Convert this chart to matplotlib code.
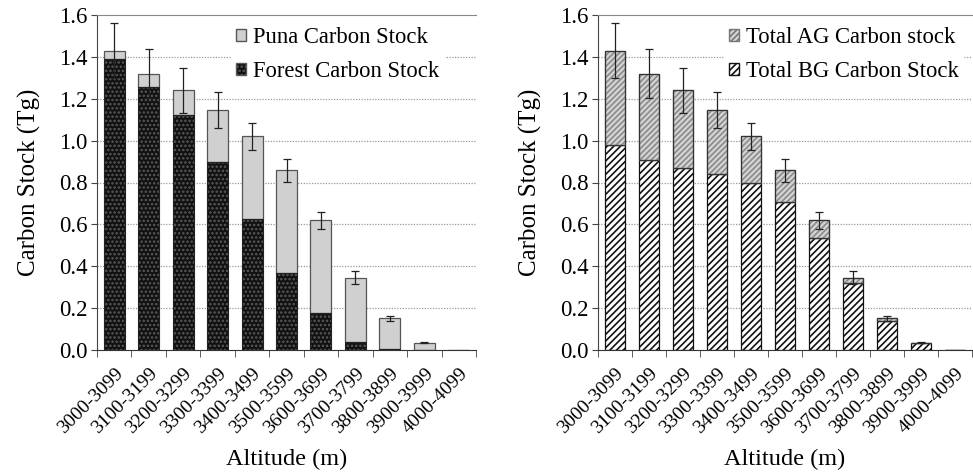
import numpy as np
import matplotlib
matplotlib.use("Agg")
import matplotlib.pyplot as plt
from matplotlib.patches import Patch

plt.rcParams['font.family'] = ['Liberation Serif', 'DejaVu Serif']
plt.rcParams['hatch.linewidth'] = 1.2

altitudes = ["3000-3099", "3100-3199", "3200-3299", "3300-3399", "3400-3499",
             "3500-3599", "3600-3699", "3700-3799", "3800-3899", "3900-3999",
             "4000-4099"]
total = [1.43, 1.32, 1.24, 1.145, 1.02, 0.858, 0.62, 0.345, 0.152, 0.035, 0.0]
err = [0.13, 0.118, 0.107, 0.085, 0.066, 0.055, 0.04, 0.03, 0.012, 0.003, 0.0]
forest = [1.39, 1.255, 1.12, 0.90, 0.625, 0.37, 0.178, 0.04, 0.005, 0.0, 0.0]
bg = [0.977, 0.907, 0.871, 0.840, 0.797, 0.708, 0.536, 0.32, 0.14, 0.035, 0.0]

total = np.array(total)
forest = np.array(forest)
bg = np.array(bg)
puna = total - forest
ag = total - bg
x = np.arange(len(altitudes))
w = 0.61

fig = plt.figure(figsize=(9.73, 4.74), dpi=100)
ax1 = fig.add_axes([97 / 973, 124 / 474, 379 / 973, 335 / 474])
ax2 = fig.add_axes([598 / 973, 124 / 474, 374 / 973, 335 / 474])


def style_axes(ax, xmax):
    ax.set_xlim(-0.5, xmax)
    ax.set_ylim(0, 1.6)
    ax.set_yticks(np.arange(0, 1.61, 0.2))
    ax.set_yticklabels([f"{v:.1f}" for v in np.arange(0, 1.61, 0.2)], fontsize=16.5)
    for v in np.arange(0.2, 1.5, 0.2):
        ax.axhline(v, color='#9a9a9a', lw=0.9, ls=(0, (1, 1.2)), zorder=0)
    ax.set_xticks(x)
    ax.set_xticklabels(altitudes, rotation=45, ha='right', rotation_mode='anchor',
                       fontsize=14)
    ax.tick_params(axis='x', length=0, pad=11)
    ax.set_xticks(np.arange(-0.5, len(altitudes), 1.0), minor=True)
    ax.tick_params(axis='x', which='minor', length=5, direction='out', color='#444')
    ax.tick_params(axis='y', length=4, direction='out', color='#444', pad=3)
    ax.spines['right'].set_visible(False)
    ax.spines['top'].set_color('#888888')
    ax.spines['left'].set_color('#444444')
    ax.spines['bottom'].set_color('#333333')
    ax.set_ylabel("Carbon Stock (Tg)", fontsize=18, labelpad=13)
    ax.set_xlabel("Altitude (m)", fontsize=17.5, labelpad=8)


# left panel: forest + puna
style_axes(ax1, 10.5)
ax1.bar(x, forest, w, color='#111111', edgecolor='#5a5a5a', hatch='....',
        linewidth=0, zorder=2)
ax1.bar(x, forest, w, fill=False, edgecolor='#222222', linewidth=0.8, zorder=3)
ax1.bar(x, puna, w, bottom=forest, color='#d0d0d0', edgecolor='#555555',
        linewidth=0.9, zorder=2)
ax1.errorbar(x[:10], total[:10], yerr=err[:10], fmt='none', ecolor='#222222',
             elinewidth=0.9, capsize=3, capthick=0.9, zorder=4)
h1 = [Patch(facecolor='#d0d0d0', edgecolor='#555555', label='Puna Carbon Stock'),
      Patch(facecolor='#111111', edgecolor='#5a5a5a', hatch='....',
            label='Forest Carbon Stock')]
leg1 = ax1.legend(handles=h1, loc='upper left', bbox_to_anchor=(0.355, 0.977),
                  fontsize=16.3, frameon=True, framealpha=1, edgecolor='white',
                  fancybox=False, handlelength=0.45, handleheight=0.45,
                  handletextpad=0.3, labelspacing=0.57, borderpad=0.2,
                  borderaxespad=0)
leg1.set_zorder(5)

# right panel: BG + AG
style_axes(ax2, 10.35)
ax2.bar(x, bg, w, color='white', edgecolor='#111111', hatch='/////',
        linewidth=0.9, zorder=2)
ax2.bar(x, ag, w, bottom=bg, color='#d4d4d4', edgecolor='#8a8a8a', hatch='//////',
        linewidth=0.9, zorder=2)
ax2.bar(x, ag, w, bottom=bg, fill=False, edgecolor='#333333', linewidth=0.9, zorder=3)
ax2.errorbar(x[:10], total[:10], yerr=err[:10], fmt='none', ecolor='#222222',
             elinewidth=0.9, capsize=3, capthick=0.9, zorder=4)
h2 = [Patch(facecolor='#d4d4d4', edgecolor='#777777', hatch='//////',
            label='Total AG Carbon stock'),
      Patch(facecolor='white', edgecolor='#111111', hatch='/////',
            label='Total BG Carbon Stock')]
leg2 = ax2.legend(handles=h2, loc='upper left', bbox_to_anchor=(0.337, 0.977),
                  fontsize=16.3, frameon=True, framealpha=1, edgecolor='white',
                  fancybox=False, handlelength=0.45, handleheight=0.45,
                  handletextpad=0.3, labelspacing=0.57, borderpad=0.2,
                  borderaxespad=0)
leg2.set_zorder(5)

fig.savefig("out.png", dpi=100)
